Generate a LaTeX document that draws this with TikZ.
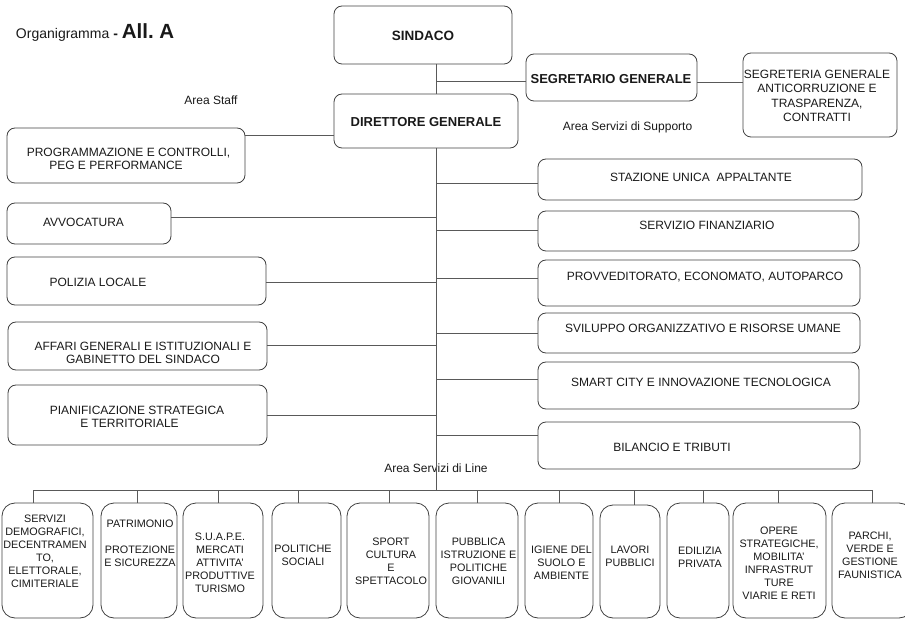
\documentclass[tikz,border=0pt]{standalone}
\usepackage{fontspec}
\setmainfont{Liberation Sans}
\begin{document}
\begin{tikzpicture}[x=1pt,y=-1pt,
  every node/.style={inner sep=0pt, outer sep=0pt, text=black!90},
  box/.style 2 args={draw=black!75, line width=0.8pt, rounded corners=8pt,
    minimum width=#1pt, minimum height=#2pt},
  lowbox/.style 2 args={draw=black!75, line width=0.8pt, rounded corners=13pt,
    minimum width=#1pt, minimum height=#2pt},
  txt/.style={font=\fontsize{12}{13.5}\selectfont, align=center},
  lowtxt/.style={font=\fontsize{10.8}{13}\selectfont, align=center},
  headtxt/.style={font=\fontsize{13}{15}\selectfont\bfseries},
  conn/.style={draw=black!65, line width=0.8pt}]
\useasboundingbox (0,0) rectangle (905,620);

% title
\node[anchor=base west] (title) at (16,39)
  {\fontsize{14}{16}\selectfont Organigramma {\bfseries -} {\fontsize{20.5}{22}\selectfont\bfseries All.\ A}};
\node[txt, anchor=base] (astaff) at (211,104.3) {Area Staff};
\node[txt, anchor=base] (asupp) at (627.5,131) {Area Servizi di Supporto};
\node[txt, anchor=base] (aline) at (436,472) {Area Servizi di Line};

% top boxes
\node[box={178}{58}] (sindaco) at (423,35) {};
\node[headtxt, anchor=base, font=\fontsize{13.5}{15}\selectfont\bfseries] (tsindaco) at (423,40.5) {SINDACO};
\node[box={184}{54}] (dg) at (426,121) {};
\node[headtxt, anchor=base] (tdg) at (426,126.4) {DIRETTORE GENERALE};
\node[box={171}{47}] (segr) at (611.5,77.5) {};
\node[headtxt, anchor=base] (tsegr) at (611,83.7) {SEGRETARIO GENERALE};
\node[box={154}{84}] (segrt) at (820,95) {};
\node[txt, font=\fontsize{12}{14.5}\selectfont] (tsegrt) at (817,96)
  {SEGRETERIA GENERALE\\ANTICORRUZIONE E\\TRASPARENZA,\\CONTRATTI};

% left staff boxes
\node[box={238}{55}] (prog) at (126,155.5) {};
\node[txt, anchor=base] (tprog1) at (128.5,157) {PROGRAMMAZIONE E CONTROLLI,};
\node[txt, anchor=base] (tprog2) at (116,170) {PEG E PERFORMANCE};
\node[box={164}{41}] (avv) at (89,223.5) {};
\node[txt, anchor=base] (tavv) at (83.5,227) {AVVOCATURA};
\node[box={259}{48}] (pol) at (136.5,281) {};
\node[txt, anchor=base] (tpol) at (98,287) {POLIZIA LOCALE};
\node[box={259}{48}] (aff) at (137.5,346) {};
\node[txt, font=\fontsize{12}{13}\selectfont] (taff) at (143,352.5)
  {AFFARI GENERALI E ISTITUZIONALI E\\GABINETTO DEL SINDACO};
\node[box={259}{60}] (pian) at (137.5,415) {};
\node[txt, anchor=base] (tpian1) at (137,414) {PIANIFICAZIONE STRATEGICA};
\node[txt, anchor=base] (tpian2) at (129.5,427) {E TERRITORIALE};

% right support boxes
\node[box={324}{41}] (staz) at (700,179.5) {};
\node[txt, anchor=base] (tstaz) at (701,182) {STAZIONE UNICA\ \ APPALTANTE};
\node[box={321}{40}] (fin) at (698.5,231) {};
\node[txt, anchor=base] (tfin) at (707,230) {SERVIZIO FINANZIARIO};
\node[box={322}{46}] (prov) at (699,283) {};
\node[txt, anchor=base] (tprov) at (705,281) {PROVVEDITORATO, ECONOMATO, AUTOPARCO};
\node[box={322}{40}] (svil) at (699,333) {};
\node[txt, anchor=base] (tsvil) at (703,333) {SVILUPPO ORGANIZZATIVO E RISORSE UMANE};
\node[box={321}{47}] (smart) at (698.5,385.5) {};
\node[txt, anchor=base] (tsmart) at (701,386) {SMART CITY E INNOVAZIONE TECNOLOGICA};
\node[box={322}{47}] (bil) at (699,445.5) {};
\node[txt, anchor=base] (tbil) at (672,451) {BILANCIO E TRIBUTI};

% bottom line boxes
\node[lowbox={91}{115}] (b1) at (47.5,560.5) {};
\node[lowtxt] (tb1) at (45,551.5) {SERVIZI\\DEMOGRAFICI,\\DECENTRAMEN\\TO,\\ELETTORALE,\\CIMITERIALE};
\node[lowbox={76}{115}] (b2) at (139,560.5) {};
\node[lowtxt] (tb2) at (140,543) {PATRIMONIO\\[13pt]PROTEZIONE\\E SICUREZZA};
\node[lowbox={80}{115}] (b3) at (223,560.5) {};
\node[lowtxt] (tb3) at (220,562.5) {S.U.A.P.E.\\MERCATI\\ATTIVITA'\\PRODUTTIVE\\TURISMO};
\node[lowbox={69}{115}] (b4) at (306.5,560.5) {};
\node[lowtxt] (tb4) at (303,555) {POLITICHE\\SOCIALI};
\node[lowbox={82}{115}] (b5) at (388,560.5) {};
\node[lowtxt] (tb5) at (391,561.5) {SPORT\\CULTURA\\E\\SPETTACOLO};
\node[lowbox={82}{115}] (b6) at (477,560.5) {};
\node[lowtxt] (tb6) at (478.5,561) {PUBBLICA\\ISTRUZIONE E\\POLITICHE\\GIOVANILI};
\node[lowbox={68}{115}] (b7) at (559,560.5) {};
\node[lowtxt] (tb7) at (561.5,562.5) {IGIENE DEL\\SUOLO E\\AMBIENTE};
\node[lowbox={60}{113}] (b8) at (630,561.5) {};
\node[lowtxt] (tb8) at (630,556.5) {LAVORI\\PUBBLICI};
\node[lowbox={62}{115}] (b9) at (698,560.5) {};
\node[lowtxt] (tb9) at (700,557) {EDILIZIA\\PRIVATA};
\node[lowbox={93}{115}] (b10) at (779.5,560.5) {};
\node[lowtxt] (tb10) at (779,563.5) {OPERE\\STRATEGICHE,\\MOBILITA'\\INFRASTRUT\\TURE\\VIARIE E RETI};
\node[lowbox={80}{115}] (b11) at (872,560.5) {};
\node[lowtxt] (tb11) at (870,555) {PARCHI,\\VERDE E\\GESTIONE\\FAUNISTICA};

% spine and junction coordinates
\coordinate (jsegr) at (436,81);
\coordinate (jseg2) at (720,82);
\coordinate (jprog) at (300,135);
\coordinate (bus) at (436,490);
\coordinate (javv) at (436,217);
\coordinate (jpol) at (436,282);
\coordinate (jaff) at (436,345);
\coordinate (jpian) at (436,415);
\coordinate (jstaz) at (436,183);
\coordinate (jfin) at (436,230);
\coordinate (jprov) at (436,278);
\coordinate (jsvil) at (436,333);
\coordinate (jsmart) at (436,379);
\coordinate (jbil) at (436,435);
\coordinate (d1) at (33,490);
\coordinate (d2) at (137,490);
\coordinate (d3) at (218,490);
\coordinate (d4) at (298,490);
\coordinate (d5) at (389,490);
\coordinate (d6) at (477,490);
\coordinate (d7) at (559,490);
\coordinate (d8) at (634,490);
\coordinate (d9) at (703,490);
\coordinate (d10) at (778,490);
\coordinate (d11) at (872,490);

% connectors
\draw[conn] (sindaco.south -| jsegr) -- (dg.north -| jsegr);
\draw[conn] (jsegr) -- (segr.west |- jsegr);
\draw[conn] (segr.east |- jseg2) -- (segrt.west |- jseg2);
\draw[conn] (dg.south -| bus) -- (bus);
\draw[conn] (prog.east |- jprog) -- (dg.west |- jprog);
\foreach \n/\j in {avv/javv, pol/jpol, aff/jaff, pian/jpian}
  \draw[conn] (\n.east |- \j) -- (\j);
\foreach \n/\j in {staz/jstaz, fin/jfin, prov/jprov, svil/jsvil, smart/jsmart, bil/jbil}
  \draw[conn] (\j) -- (\n.west |- \j);
\draw[conn] (d1) -- (d11);
\foreach \i in {1,...,11}
  \draw[conn] (d\i) -- (d\i |- b\i.north);
\end{tikzpicture}
\end{document}
